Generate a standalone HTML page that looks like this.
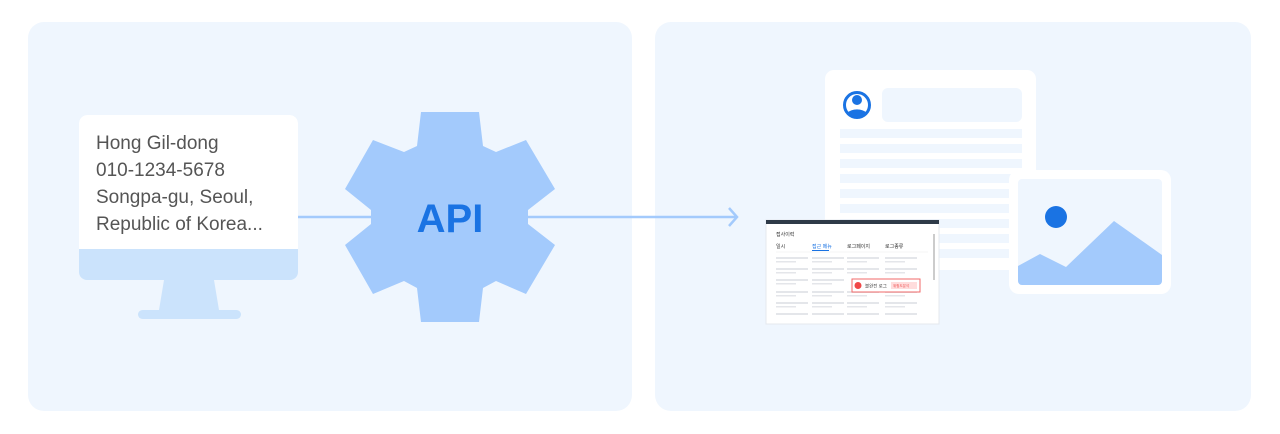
<!DOCTYPE html>
<html><head><style>
body{margin:0;width:1280px;height:434px;background:#fff;position:relative;overflow:hidden;font-family:"Liberation Sans","Noto Sans CJK KR",sans-serif}
.a{position:absolute}
</style></head><body>
<div class="a" style="left:28px;top:22px;width:604px;height:389px;background:#eff6fe;border-radius:16px"></div>
<div class="a" style="left:655px;top:22px;width:596px;height:389px;background:#eff6fe;border-radius:16px"></div>
<svg class="a" style="left:0;top:0" width="1280" height="434">
<line x1="298" y1="217" x2="736" y2="217" stroke="#a3cafc" stroke-width="2.5"/>
<polyline points="729,208 737,217 729,226" fill="none" stroke="#a3cafc" stroke-width="2.5"/>
<!-- monitor -->
<rect x="79" y="115" width="219" height="165" rx="8" fill="#cbe3fc"/>
<path d="M87 115H290a8 8 0 0 1 8 8V249H79V123a8 8 0 0 1 8-8z" fill="#fff"/>
<polygon points="164,280 214,280 219,310 159,310" fill="#cbe3fc"/>
<rect x="138" y="310" width="103" height="9" rx="4.5" fill="#cbe3fc"/>
<text fill="#555" font-size="19" font-family="Liberation Sans,sans-serif"><tspan x="96" y="149">Hong Gil-dong</tspan><tspan x="96" y="176">010-1234-5678</tspan><tspan x="96" y="203">Songpa-gu, Seoul,</tspan><tspan x="96" y="230">Republic of Korea...</tspan></text>
<!-- gear -->
<polygon fill="#a3cafc" points="421,112 479,112 483,146 496,152 526,140 555,189 528,210 528,224 555,245 526,294 496,281 483,288 479,322 421,322 417,288 404,281 373,294 345,245 371,224 371,210 345,189 373,140 404,152 417,146"/>
<text x="450" y="232" text-anchor="middle" fill="#1a73e3" font-size="40" font-weight="bold" font-family="Liberation Sans,sans-serif">API</text>
<!-- document -->
<rect x="825" y="70" width="211" height="200" rx="9" fill="#fff"/>
<circle cx="857" cy="105" r="12.5" fill="none" stroke="#1a73e3" stroke-width="3"/>
<circle cx="857" cy="100" r="5" fill="#1a73e3"/>
<path d="M847 113a12 8 0 0 1 20 0a13 13 0 0 1 -20 0z" fill="#1a73e3"/>
<rect x="882" y="88" width="140" height="34" rx="6" fill="#eff6fe"/>
<g fill="#eff6fe">
<rect x="840" y="129" width="182" height="9"/><rect x="840" y="144" width="182" height="9"/><rect x="840" y="159" width="182" height="9"/><rect x="840" y="174" width="182" height="9"/><rect x="840" y="189" width="182" height="9"/><rect x="840" y="204" width="182" height="9"/><rect x="840" y="219" width="182" height="9"/><rect x="840" y="234" width="182" height="9"/><rect x="840" y="249" width="182" height="9"/>
</g>
<!-- image card -->
<rect x="1009" y="170" width="162" height="124" rx="10" fill="#fff"/>
<rect x="1018" y="179" width="144" height="106" rx="4" fill="#eff6fe"/>
<circle cx="1056" cy="217" r="11" fill="#1a73e3"/>
<path d="M1018 266L1040 254L1066 267L1114 221L1162 255V281a4 4 0 0 1-4 4H1022a4 4 0 0 1-4-4z" fill="#a3cafc"/>
<!-- screenshot -->
<rect x="766" y="220" width="173" height="104" fill="#fff" stroke="#e4e8ee" stroke-width="1"/>
<rect x="766" y="220" width="173" height="4" fill="#2e3a48"/>
<rect x="933" y="234" width="2" height="46" fill="#ccc"/>
<text font-size="5" fill="#333"><tspan x="776" y="236">접사이력</tspan><tspan x="776" y="248">일시</tspan><tspan x="812" y="248" fill="#1a73e3">접근 메뉴</tspan><tspan x="847" y="248">로그페이지</tspan><tspan x="885" y="248">로그종류</tspan></text>
<rect x="812" y="250" width="17" height="1" fill="#1a73e3"/>
<line x1="776" y1="252" x2="928" y2="252" stroke="#eee" stroke-width="0.6"/>
<g fill="#e4e6ea">
<rect x="776" y="257" width="32" height="2"/><rect x="812" y="257" width="32" height="2"/><rect x="847" y="257" width="32" height="2"/><rect x="885" y="257" width="32" height="2"/>
<rect x="776" y="261" width="20" height="1.5"/><rect x="812" y="261" width="20" height="1.5"/><rect x="847" y="261" width="20" height="1.5"/><rect x="885" y="261" width="20" height="1.5"/>
<rect x="776" y="268" width="32" height="2"/><rect x="812" y="268" width="32" height="2"/><rect x="847" y="268" width="32" height="2"/><rect x="885" y="268" width="32" height="2"/>
<rect x="776" y="272" width="20" height="1.5"/><rect x="812" y="272" width="20" height="1.5"/><rect x="847" y="272" width="20" height="1.5"/><rect x="885" y="272" width="20" height="1.5"/>
<rect x="776" y="279" width="32" height="2"/><rect x="812" y="279" width="32" height="2"/>
<rect x="776" y="283" width="20" height="1.5"/><rect x="812" y="283" width="20" height="1.5"/>
<rect x="776" y="291" width="32" height="2"/><rect x="812" y="291" width="32" height="2"/><rect x="847" y="291" width="32" height="2"/><rect x="885" y="291" width="32" height="2"/>
<rect x="776" y="295" width="20" height="1.5"/><rect x="812" y="295" width="20" height="1.5"/><rect x="847" y="295" width="20" height="1.5"/><rect x="885" y="295" width="20" height="1.5"/>
<rect x="776" y="302" width="32" height="2"/><rect x="812" y="302" width="32" height="2"/><rect x="847" y="302" width="32" height="2"/><rect x="885" y="302" width="32" height="2"/>
<rect x="776" y="306" width="20" height="1.5"/><rect x="812" y="306" width="20" height="1.5"/><rect x="847" y="306" width="20" height="1.5"/><rect x="885" y="306" width="20" height="1.5"/>
<rect x="776" y="313" width="32" height="2"/><rect x="812" y="313" width="32" height="2"/><rect x="847" y="313" width="32" height="2"/><rect x="885" y="313" width="32" height="2"/>
</g>
<rect x="852" y="279" width="68" height="13" fill="#fff" stroke="#f26a6a" stroke-width="1"/>
<circle cx="858" cy="285.5" r="3.5" fill="#f04848"/>
<text x="865" y="287.5" font-size="4.5" fill="#444">불완전 로그</text>
<rect x="891" y="282" width="26" height="7" fill="#fdd"/>
<text x="893" y="287" font-size="3.5" fill="#e55">위험도분석</text>
</svg>
</body></html>
